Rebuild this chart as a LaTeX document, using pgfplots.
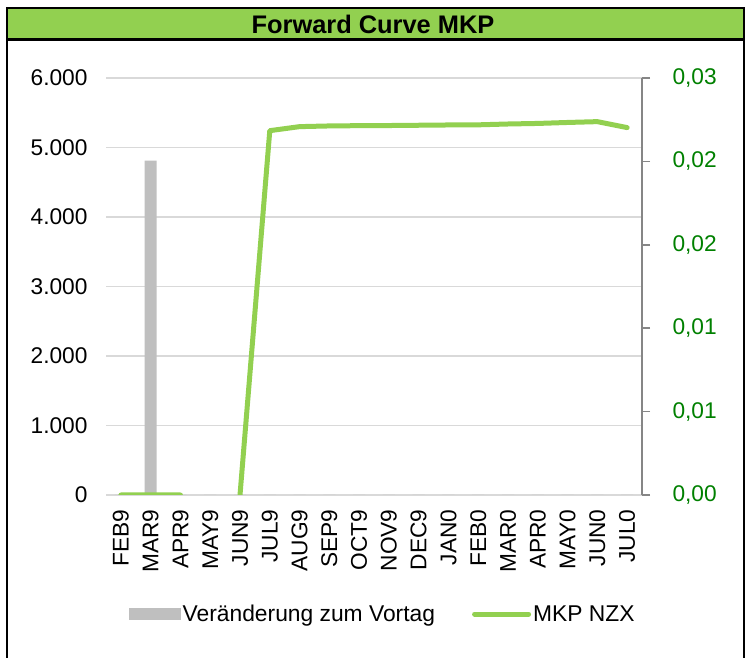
\documentclass[border=0pt]{standalone}
\usepackage{pgfplots}
\pgfplotsset{compat=1.18}
\usepackage{fontspec}
\setmainfont{Liberation Sans}
\definecolor{xlgreen}{HTML}{92D050}
\definecolor{bargray}{HTML}{BFBFBF}
\definecolor{gridgray}{HTML}{D9D9D9}
\definecolor{axgray}{HTML}{868686}
\definecolor{labgreen}{HTML}{008000}
\pgfplotsset{
  barleg/.style={legend image code/.code={\fill[bargray] (0bp,-6bp) rectangle (52bp,6bp);}},
  lineleg/.style={legend image code/.code={\draw[line width=5bp, color=xlgreen, line cap=round] (0bp,0bp) -- (54bp,0bp);}},
}
\begin{document}
\begin{tikzpicture}[x=1bp,y=1bp]
\path[use as bounding box] (0,0) rectangle (754,658);
% frame and title
\draw[line width=2.5bp] (7,618) -- (7,-5);
\draw[line width=2.5bp] (744,618) -- (744,-5);
\draw[line width=2.5bp, fill=xlgreen] (7,650) rectangle (744,618.5);
\node[font=\fontsize{25.5}{30}\selectfont\bfseries] at (373,634) {Forward Curve MKP};
% left axis with bars
\begin{axis}[
  at={(106bp,163bp)}, anchor=south west, scale only axis,
  width=536bp, height=417bp,
  xmin=-0.5, xmax=17.5, ymin=0, ymax=6000,
  axis line style={draw=none},
  major tick length=0pt,
  scaled y ticks=false,
  ytick={0,1000,2000,3000,4000,5000,6000},
  yticklabels={0,1.000,2.000,3.000,4.000,5.000,6.000},
  xtick={0,...,17},
  xticklabels={FEB9,MAR9,APR9,MAY9,JUN9,JUL9,AUG9,SEP9,OCT9,NOV9,DEC9,JAN0,FEB0,MAR0,APR0,MAY0,JUN0,JUL0},
  every tick label/.append style={font=\fontsize{22.8}{27}\selectfont},
  yticklabel style={xshift=-15bp},
  xticklabel style={rotate=90, anchor=east, xshift=-11bp},
  ymajorgrids, grid style={color=gridgray, line width=1.5bp},
  legend columns=2,
  legend style={draw=none, fill=none, at={(0.516,-0.2854)}, anchor=center,
    font=\fontsize{22.9}{27}\selectfont,
    nodes={inner sep=2bp},
    /tikz/every even column/.append style={column sep=35bp}},
]
\addplot[ybar, bar width=12bp, fill=bargray, draw=none, barleg]
  coordinates {(0,0) (1,4810) (2,0) (3,0) (4,0) (5,0) (6,0) (7,0) (8,0) (9,0) (10,0) (11,0) (12,0) (13,0) (14,0) (15,0) (16,0) (17,0)};
\addlegendentry{Veränderung zum Vortag}
\addlegendimage{lineleg}
\addlegendentry{MKP NZX}
\end{axis}
% right axis with line
\begin{axis}[
  at={(106bp,163bp)}, anchor=south west, scale only axis,
  width=536bp, height=417bp,
  xmin=-0.5, xmax=17.5, ymin=0, ymax=0.03,
  axis x line=none,
  axis y line*=right,
  axis line style={color=axgray, line width=1.5bp, -},
  tick style={color=axgray, line width=1.5bp},
  tick align=outside, major tick length=8bp,
  scaled y ticks=false,
  ytick={0,0.006,0.012,0.018,0.024,0.03},
  yticklabels={{0,00},{0,01},{0,01},{0,02},{0,02},{0,03}},
  yticklabel style={font=\fontsize{22.8}{27}\selectfont, color=labgreen, xshift=19bp},
  unbounded coords=jump,
]
\addplot[line width=5bp, color=xlgreen, line cap=round, line join=round]
  coordinates {(0,0) (1,0) (2,0) (3,nan) (4,0) (5,0.02621) (6,0.02650) (7,0.02655) (8,0.02657) (9,0.02658) (10,0.02660) (11,0.02662) (12,0.02663) (13,0.02669) (14,0.02673) (15,0.02680) (16,0.02686) (17,0.02643)};
\end{axis}
\end{tikzpicture}
\end{document}
